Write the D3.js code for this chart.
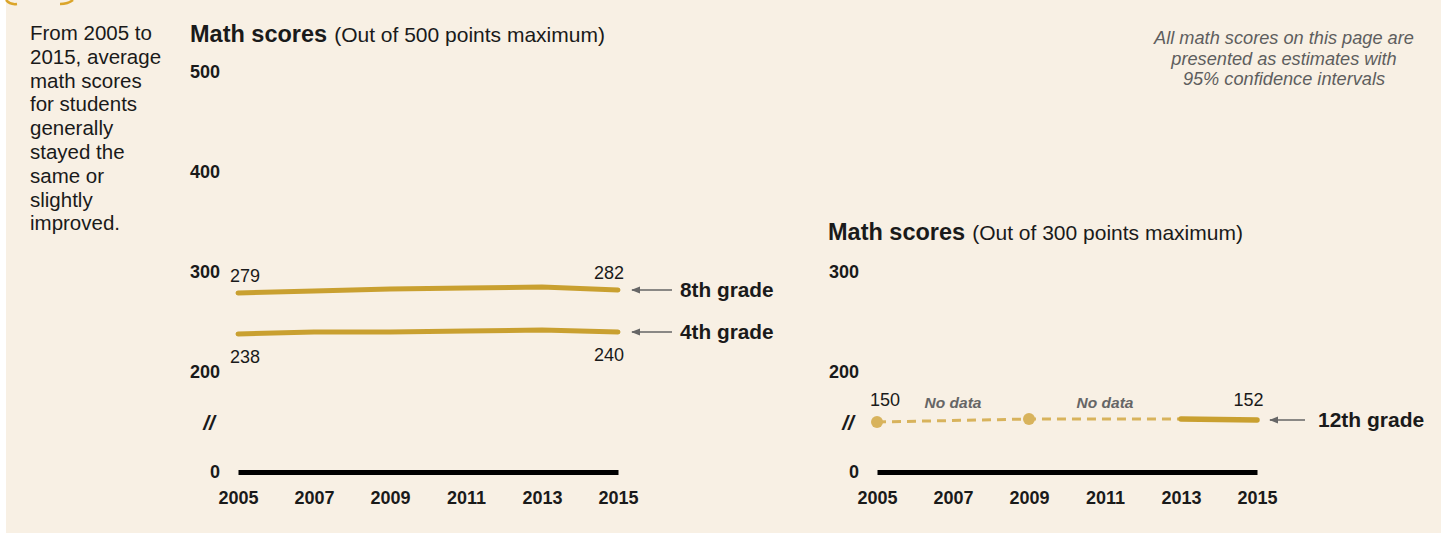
<!DOCTYPE html>
<html>
<head>
<meta charset="utf-8">
<script src="https://cdn.jsdelivr.net/npm/d3@7"></script>
<style>
  html, body { margin: 0; padding: 0; background: #ffffff; }
  svg { display: block; font-family: "Liberation Sans", Arial, sans-serif; }
</style>
</head>
<body>
<svg id="chart" width="1447" height="533"></svg>
<script>
// ---------- data ----------
const years = [2005, 2007, 2009, 2011, 2013, 2015];
const grade8 = [279, 281, 283, 284, 285, 282];
const grade4 = [238, 240, 240, 241, 242, 240];
const years12 = [2005, 2009, 2013, 2015];
const grade12 = [150, 153, 153, 152];
const noDataYears = [2007, 2011];
const leftTicks = [0, 200, 300, 400, 500];
const rightTicks = [0, 200, 300];
const introLines = ["From 2005 to", "2015, average", "math scores", "for students", "generally", "stayed the", "same or", "slightly", "improved."];
const noteLines = ["All math scores on this page are", "presented as estimates with", "95% confidence intervals"];

// ---------- styles ----------
const BG = "#f8f0e4";
const GOLD = "#c9a030";
const GOLD_LIGHT = "#d8b35c";
const INK = "#1a1a1a";
const GREY = "#666666";

const svg = d3.select("#chart");
svg.append("rect").attr("x", 6).attr("y", 0).attr("width", 1435).attr("height", 533).attr("fill", BG);
// fragment of icon at top-left
svg.append("path").attr("d", "M6,0 Q10,5 17,4").attr("fill", "none").attr("stroke", "#dba52a").attr("stroke-width", 2.5);
svg.append("path").attr("d", "M60,4 Q68,4 73,0").attr("fill", "none").attr("stroke", "#dba52a").attr("stroke-width", 2.5);

const defs = svg.append("defs");
defs.append("marker").attr("id", "arr").attr("viewBox", "0 0 10 10").attr("refX", 9).attr("refY", 5)
  .attr("markerWidth", 6).attr("markerHeight", 6).attr("orient", "auto")
  .append("path").attr("d", "M0,1 L10,5 L0,9 Z").attr("fill", GREY);

// intro text
const intro = svg.append("text").attr("fill", INK).style("font-size", "20.5px");
introLines.forEach((l, i) => intro.append("tspan").attr("x", 30).attr("y", 40 + i * 23.8).text(l));

// note text
const note = svg.append("text").attr("text-anchor", "middle").attr("fill", "#5e5e5e").style("font-size", "18.2px").style("font-style", "italic");
noteLines.forEach((l, i) => note.append("tspan").attr("x", 1284).attr("y", 44 + i * 20.5).text(l));

function panel(opts) {
  const g = svg.append("g");
  const x = d3.scaleLinear().domain([2005, 2015]).range(opts.xr);
  const y = d3.scaleLinear().domain([100, opts.max]).range([472, 472 - (opts.max - 100)]).clamp(true);

  // title
  const t = g.append("text").attr("x", opts.titleX).attr("y", opts.titleY).attr("fill", INK);
  t.append("tspan").style("font-weight", "bold").style("font-size", "23.5px").text("Math scores");
  t.append("tspan").attr("dx", 7).style("font-size", "21px").text(`(Out of ${opts.max} points maximum)`);

  // y axis
  const ya = g.append("g").attr("transform", `translate(${opts.xr[0]},0)`)
    .call(d3.axisLeft(y).tickValues(opts.ticks).tickSize(0).tickPadding(18).tickFormat(d3.format("d")));
  ya.select(".domain").remove();
  ya.selectAll("text").attr("fill", INK).style("font-size", "18px").style("font-weight", "bold").style("font-family", "Liberation Sans, Arial, sans-serif");

  // axis break mark
  g.append("text").attr("x", opts.xr[0] - 29).attr("y", (y(0) + y(200)) / 2 + 8).attr("text-anchor", "middle")
    .attr("fill", INK).style("font-size", "21px").style("font-weight", "bold").style("font-style", "italic").text("//");

  // x axis
  const xa = g.append("g").attr("transform", `translate(0,${y(0)})`)
    .call(d3.axisBottom(x).tickValues(years).tickSize(0).tickSizeOuter(0).tickPadding(19).tickFormat(d3.format("d")));
  xa.select(".domain").attr("stroke", "#000").attr("stroke-width", 5);
  xa.selectAll("text").attr("fill", INK).style("font-size", "18px").style("font-weight", "bold").style("font-family", "Liberation Sans, Arial, sans-serif");
  return { g, x, y };
}

const line = (x, y, xs) => d3.line().x((d, i) => x(xs[i])).y(d => y(d));

function arrow(g, x1, x2, y) {
  g.append("line").attr("x1", x1).attr("x2", x2).attr("y1", y).attr("y2", y)
    .attr("stroke", GREY).attr("stroke-width", 1.5).attr("marker-end", "url(#arr)");
}

// ---------- left panel ----------
const L = panel({ xr: [238, 618], max: 500, ticks: leftTicks, titleX: 190, titleY: 42 });
[[grade8, -11, "8th grade"], [grade4, 28.5, "4th grade"]].forEach(([vals, off, name]) => {
  L.g.append("path").datum(vals).attr("d", line(L.x, L.y, years)).attr("fill", "none")
    .attr("stroke", GOLD).attr("stroke-width", 5).attr("stroke-linecap", "round").attr("stroke-linejoin", "round");
  const n = vals.length - 1;
  L.g.append("text").attr("x", L.x(years[0]) + 7).attr("y", L.y(vals[0]) + off).attr("text-anchor", "middle")
    .attr("fill", INK).style("font-size", "18px").text(vals[0]);
  L.g.append("text").attr("x", L.x(years[n]) - 9).attr("y", L.y(vals[n]) + off).attr("text-anchor", "middle")
    .attr("fill", INK).style("font-size", "18px").text(vals[n]);
  const ay = L.y(vals[n]);
  arrow(L.g, L.x(years[n]) + 54, L.x(years[n]) + 14, ay);
  L.g.append("text").attr("x", L.x(years[n]) + 62).attr("y", ay + 7).attr("fill", INK)
    .style("font-size", "20.8px").style("font-weight", "bold").text(name);
});

// ---------- right panel ----------
const R = panel({ xr: [877, 1257], max: 300, ticks: rightTicks, titleX: 828, titleY: 240 });
const dashedPart = grade12.slice(0, 3), dashedYears = years12.slice(0, 3);
R.g.append("path").datum(dashedPart).attr("d", line(R.x, R.y, dashedYears)).attr("fill", "none")
  .attr("stroke", GOLD_LIGHT).attr("stroke-width", 3).attr("stroke-dasharray", "9,6");
R.g.append("path").datum(grade12.slice(2)).attr("d", line(R.x, R.y, years12.slice(2))).attr("fill", "none")
  .attr("stroke", GOLD).attr("stroke-width", 5.5).attr("stroke-linecap", "round");
R.g.selectAll("circle.pt").data(grade12.slice(0, 2)).join("circle").attr("class", "pt")
  .attr("cx", (d, i) => R.x(years12[i])).attr("cy", d => R.y(d)).attr("r", 6).attr("fill", GOLD_LIGHT);
const n12 = grade12.length - 1;
R.g.append("text").attr("x", R.x(years12[0]) + 8).attr("y", R.y(grade12[0]) - 16.5).attr("text-anchor", "middle")
  .attr("fill", INK).style("font-size", "18px").text(grade12[0]);
R.g.append("text").attr("x", R.x(years12[n12]) - 8.5).attr("y", R.y(grade12[n12]) - 14.5).attr("text-anchor", "middle")
  .attr("fill", INK).style("font-size", "18px").text(grade12[n12]);
noDataYears.forEach(yr => R.g.append("text").attr("x", R.x(yr)).attr("y", 408).attr("text-anchor", "middle")
  .attr("fill", GREY).style("font-size", "15.5px").style("font-weight", "bold").style("font-style", "italic").text("No data"));
const ay12 = R.y(grade12[n12]);
arrow(R.g, R.x(2015) + 48, R.x(2015) + 13, ay12);
R.g.append("text").attr("x", R.x(2015) + 61).attr("y", ay12 + 7).attr("fill", INK)
  .style("font-size", "21px").style("font-weight", "bold").text("12th grade");
</script>
</body>
</html>
